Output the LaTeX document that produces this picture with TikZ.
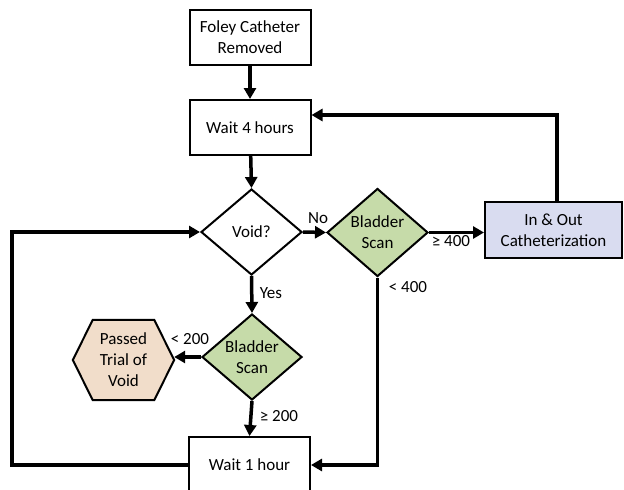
\documentclass[tikz,border=0pt]{standalone}
\usepackage{fontspec}
\setmainfont{Carlito}
\usetikzlibrary{arrows.meta,shapes.geometric,backgrounds}
\definecolor{scangreen}{HTML}{C6DBA9}
\definecolor{passpeach}{HTML}{F1DDCA}
\definecolor{catlav}{HTML}{D9DCF0}
\begin{document}
\begin{tikzpicture}[x=1pt,y=-1pt, font=\fontsize{17}{21}\selectfont,
  box/.style={draw, line width=2pt, minimum width=121pt, minimum height=55pt, align=center, inner sep=0pt},
  dia/.style={draw, diamond, line width=2pt, inner sep=0pt},
  conn/.style={line width=3.5pt, line join=miter, -{Triangle[length=11pt,width=12pt]}},
  lbl/.style={inner sep=0pt}]
\useasboundingbox (0,0) rectangle (624,490);
\clip (0,0) rectangle (624,490);

% nodes
\node[box] (foley) at (250,37) {Foley Catheter\\Removed};
\node[box] (wait4) at (250,127.5) {Wait 4 hours};
\node[dia, minimum width=101pt, minimum height=86pt,
      label={[align=center]center:Void?}] (void) at (251.5,232) {};
\node[dia, fill=scangreen, minimum width=101pt, minimum height=88pt,
      label={[align=center]center:Bladder\\Scan}] (bl1) at (377.5,232.5) {};
\node[box, fill=catlav, minimum width=137pt, minimum height=56pt] (inout) at (553.5,230) {In \& Out\\Catheterization};
\node[dia, fill=scangreen, minimum width=100pt, minimum height=86pt,
      label={[align=center]center:Bladder\\Scan}] (bl2) at (252,357) {};
\node[align=center, minimum width=101pt, minimum height=80pt, inner sep=0pt] (pass) at (123.5,360) {Passed\\Trial of\\Void};
\begin{scope}[on background layer]
\draw[line width=2pt, fill=passpeach, line join=miter]
  (pass.west) -- ([xshift=20pt]pass.north west) -- ([xshift=-20pt]pass.north east)
  -- (pass.east) -- ([xshift=-20pt]pass.south east) -- ([xshift=20pt]pass.south west) -- cycle;
\end{scope}
\node[box, minimum height=56pt] (wait1) at (249.5,465) {Wait 1 hour};

\coordinate (topturn) at (557,115);
\coordinate (leftturn) at (12,232);

% connectors
\draw[conn] (foley) -- (wait4);
\draw[conn] (wait4) -- (void.north);
\draw[conn] (void.east) -- (bl1.west);
\draw[conn] (bl1.east) -- (bl1.east -| inout.west);
\draw[conn] (inout.north -| topturn) -- (topturn) -- (topturn -| wait4.east);
\draw[conn] (void.south) -- (bl2.north);
\draw[conn] (bl2.west) -- (bl2.west -| pass.east);
\draw[conn] (bl2.south) -- (wait1.north);
\draw[conn] (bl1.south) |- (wait1.east);
\draw[conn] (wait1.west) -| (leftturn) -- (void.west);

% labels
\node[lbl] (lno) at (318,218) {No};
\node[lbl] (lge400) at (451,241) {≥ 400};
\node[lbl] (llt400) at (408,287) {< 400};
\node[lbl] (lyes) at (271,293) {Yes};
\node[lbl] (llt200) at (190,339) {< 200};
\node[lbl] (lge200) at (279,416) {≥ 200};
\end{tikzpicture}
\end{document}
